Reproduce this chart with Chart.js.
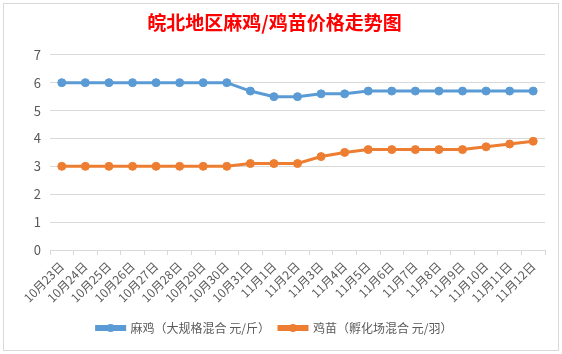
<!DOCTYPE html>
<html>
<head>
<meta charset="utf-8">
<script src="https://cdn.jsdelivr.net/npm/chart.js@4.4.0/dist/chart.umd.min.js"></script>
<style>
  html, body { margin: 0; padding: 0; background: #fff; width: 562px; height: 354px; overflow: hidden; }
  #wrap { position: absolute; left: 3px; top: 3px; width: 554px; height: 346px; border: 1px solid #D9D9D9; background: #fff; }
  canvas { display: block; }
</style>
</head>
<body>
<div id="wrap"><canvas id="c" width="554" height="346"></canvas></div>
<script>
const titleText = '皖北地区麻鸡/鸡苗价格走势图';
const categories = ['10月23日','10月24日','10月25日','10月26日','10月27日','10月28日','10月29日','10月30日','10月31日',
  '11月1日','11月2日','11月3日','11月4日','11月5日','11月6日','11月7日','11月8日','11月9日','11月10日','11月11日','11月12日'];
const seriesNames = ['麻鸡（大规格混合 元/斤）', '鸡苗（孵化场混合 元/羽）'];
const majiPrices = [6, 6, 6, 6, 6, 6, 6, 6, 5.7, 5.5, 5.5, 5.6, 5.6, 5.7, 5.7, 5.7, 5.7, 5.7, 5.7, 5.7, 5.7];
const jimiaoPrices = [3, 3, 3, 3, 3, 3, 3, 3, 3.1, 3.1, 3.1, 3.35, 3.5, 3.6, 3.6, 3.6, 3.6, 3.6, 3.7, 3.8, 3.9];
const yTicks = [0, 1, 2, 3, 4, 5, 6, 7];

const BLUE = '#5B9BD5', ORANGE = '#ED7D31';
const FONT = '"Noto Sans CJK SC", "Microsoft YaHei", sans-serif';

const legendDots = {
  id: 'legendDots',
  afterDraw(chart) {
    const lg = chart.legend;
    if (!lg || !lg.legendHitBoxes) return;
    const ctx = chart.ctx;
    const bw = lg.options.labels.boxWidth;
    const fs = 12;
    lg.legendHitBoxes.forEach((hb, i) => {
      const ds = chart.data.datasets[i];
      ctx.save();
      ctx.fillStyle = ds.borderColor;
      ctx.beginPath();
      ctx.arc(hb.left + bw / 2, hb.top + fs / 2, 4, 0, Math.PI * 2);
      ctx.fill();
      ctx.restore();
    });
  }
};

new Chart(document.getElementById('c'), {
  type: 'line',
  data: {
    labels: categories,
    datasets: [
      { label: seriesNames[0], data: majiPrices, borderColor: BLUE, backgroundColor: BLUE,
        borderWidth: 3, pointRadius: 4, pointBorderWidth: 1, pointBackgroundColor: BLUE, pointBorderColor: BLUE, tension: 0 },
      { label: seriesNames[1], data: jimiaoPrices, borderColor: ORANGE, backgroundColor: ORANGE,
        borderWidth: 3, pointRadius: 4, pointBorderWidth: 1, pointBackgroundColor: ORANGE, pointBorderColor: ORANGE, tension: 0 }
    ]
  },
  options: {
    responsive: false,
    animation: false,
    devicePixelRatio: 1,
    layout: { padding: { left: 0, right: 13, top: 0, bottom: 6 } },
    plugins: {
      title: {
        display: true, text: titleText, color: '#FF0000',
        font: { family: FONT, size: 19, weight: 'bold' },
        padding: { top: 7, bottom: 21 }
      },
      legend: {
        position: 'bottom',
        labels: {
          color: '#595959', font: { family: FONT, size: 12 },
          boxWidth: 28, boxHeight: 3, padding: 9
        }
      },
      tooltip: { enabled: false }
    },
    scales: {
      x: {
        offset: true,
        grid: { offset: true, drawOnChartArea: false, drawTicks: true, tickLength: 5, color: '#D9D9D9' },
        border: { display: true, color: '#D9D9D9' },
        ticks: { color: '#595959', font: { family: FONT, size: 12 }, minRotation: 45, maxRotation: 45, autoSkip: false, padding: 4 },
        afterFit(s) { s.height = 63; }
      },
      y: {
        min: 0, max: 7,
        afterBuildTicks(s) { s.ticks = yTicks.map(v => ({ value: v })); },
        grid: { color: '#D9D9D9', drawTicks: false },
        border: { display: false },
        ticks: { color: '#595959', font: { family: FONT, size: 13 }, padding: 9 },
        afterFit(s) { s.width = 46; }
      }
    }
  },
  plugins: [legendDots]
});
</script>
</body>
</html>
